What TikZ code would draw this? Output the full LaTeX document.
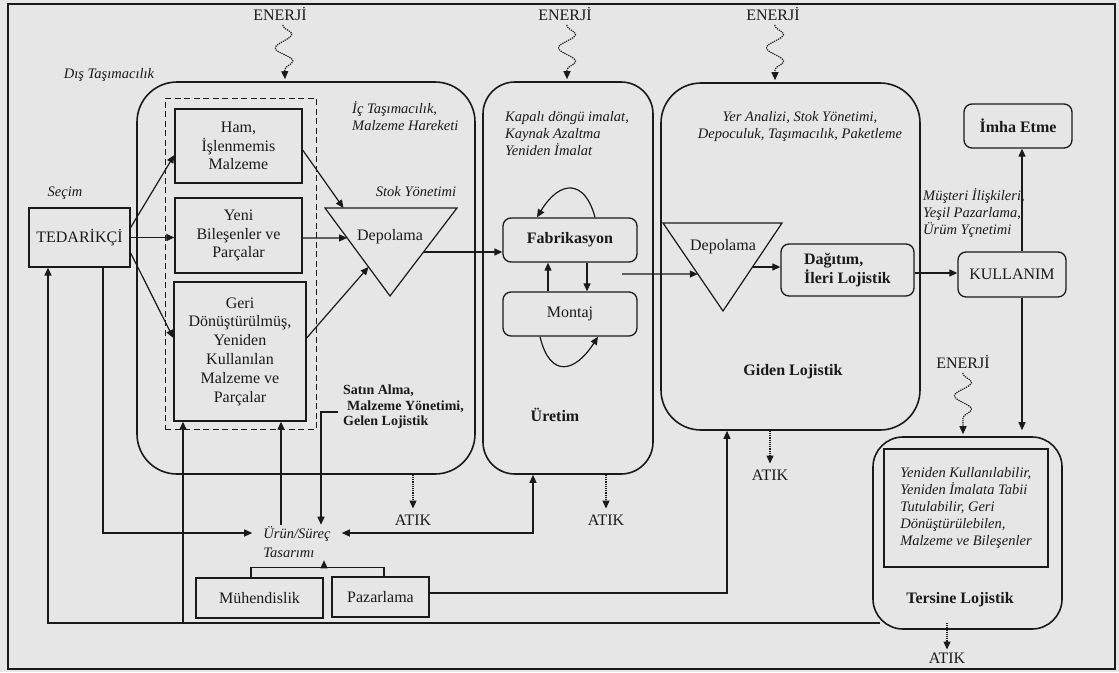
\documentclass[tikz,border=0pt]{standalone}
\usepackage{fontspec}
\setmainfont{Liberation Serif}
\usetikzlibrary{arrows.meta,decorations.pathmorphing,calc}

\definecolor{paper}{HTML}{E6E6E6}
\definecolor{ink}{HTML}{1A1A1A}

\begin{document}
\begin{tikzpicture}[x=1pt,y=-1pt,
  every node/.style={inner sep=0pt, text=ink},
  line/.style={draw=ink, line width=1.2pt},
  tip/.style={-{Triangle[length=8pt,width=7pt]}},
  arr/.style={line, tip},
  darr/.style={line, {Triangle[length=8pt,width=7pt]}-{Triangle[length=8pt,width=7pt]}},
  waste/.style={draw=ink, line width=1.2pt, densely dotted, tip},
  energy/.style={draw=ink, line width=1.2pt, densely dotted, tip, decorate,
    decoration={snake, amplitude=8.5pt, segment length=27pt, pre length=1pt, post length=7pt}},
  box/.style={draw=ink, line width=1.3pt},
  rbox/.style={draw=ink, line width=1.3pt, rounded corners=8pt},
  big/.style={draw=ink, line width=1.6pt, rounded corners=#1},
  rtxt/.style={font=\fontsize{16}{18.8}\selectfont, align=center},
  btxt/.style={font=\fontsize{16}{18.5}\selectfont\bfseries, align=center},
  itxt/.style={font=\fontsize{14.5}{17}\selectfont\itshape, align=left},
  stxt/.style={font=\fontsize{14}{15.5}\selectfont\bfseries, align=left},
]
\useasboundingbox (0,0) rectangle (1119,672);
\fill[paper] (0,0) rectangle (1119,672);
\draw[ink, line width=2pt] (8,4) rectangle (1115,669);

% ---- supply and purchasing ----
\node[big=40pt, minimum width=338pt, minimum height=392pt] (satin) at (306,278) {};
\node[draw=ink, line width=0.9pt, dash pattern=on 6pt off 3.5pt,
      minimum width=151pt, minimum height=331pt] (dash) at (240.5,263.5) {};
\node[box, rtxt, minimum width=101pt, minimum height=59pt] (ted) at (79.5,237.5) {TEDARİKÇİ};
\node[itxt] (secim) at (65,193) {Seçim};
\node[itxt] (dis) at (109,75) {Dış Taşımacılık};
\node[itxt, anchor=west] (ic) at (352,116) {İç Taşımacılık,\\Malzeme Hareketi};
\node[itxt] (stok) at (416,192) {Stok Yönetimi};
\node[box, rtxt, minimum width=127pt, minimum height=74pt] (ham) at (238.5,146) {Ham,\\İşlenmemis\\Malzeme};
\node[box, rtxt, minimum width=127pt, minimum height=75pt] (yeni) at (238.5,235.5) {Yeni\\Bileşenler ve\\Parçalar};
\node[box, rtxt, minimum width=132pt, minimum height=139pt] (geri) at (240,351.5)
  {Geri\\Dönüştürülmüş,\\Yeniden\\Kullanılan\\Malzeme ve\\Parçalar};
\draw[line] (325,208) coordinate (d1a) -- (457,208) coordinate (d1b) -- (390,296) coordinate (d1c) -- cycle;
\node[rtxt] (dep1) at (390,237) {Depolama};
\node[stxt, anchor=west] (satinlbl) at (343,407) {Satın Alma,\\\hspace{4pt}Malzeme Yönetimi,\\Gelen Lojistik};

% ---- production ----
\node[big=32pt, minimum width=170pt, minimum height=392pt] (uretim) at (568,278) {};
\node[itxt, anchor=west] (kapali) at (505,134) {Kapalı döngü imalat,\\Kaynak Azaltma\\Yeniden İmalat};
\node[rbox, btxt, minimum width=134pt, minimum height=44pt] (fab) at (570,240) {Fabrikasyon};
\node[rbox, rtxt, minimum width=134pt, minimum height=44pt] (montaj) at (570,314) {Montaj};
\node[btxt] (uretimlbl) at (555,415) {Üretim};

% ---- outbound logistics ----
\node[big=40pt, minimum width=259pt, minimum height=347pt] (giden) at (790.5,256.5) {};
\node[itxt, align=center] (yer) at (800,127) {Yer Analizi, Stok Yönetimi,\\Depoculuk, Taşımacılık, Paketleme};
\draw[line] (663,223) coordinate (d2a) -- (782,223) coordinate (d2b) -- (723,311) coordinate (d2c) -- cycle;
\node[rtxt] (dep2) at (723,247) {Depolama};
\node[rbox, btxt, align=left, minimum width=133pt, minimum height=52pt] (dagitim) at (847.5,270) {Dağıtım,\\İleri Lojistik};
\node[btxt] (gidenlbl) at (793,372) {Giden Lojistik};

% ---- use and disposal ----
\node[rbox, rtxt, minimum width=108pt, minimum height=45pt] (kullanim) at (1012,274.5) {KULLANIM};
\node[rbox, btxt, minimum width=108pt, minimum height=44pt] (imha) at (1018,126) {İmha Etme};
\node[itxt, anchor=west] (musteri) at (923,213) {Müşteri İlişkileri,\\Yeşil Pazarlama,\\Ürüm Yçnetimi};

% ---- reverse logistics ----
\node[big=30pt, minimum width=189pt, minimum height=192pt] (tersine) at (967.5,533) {};
\node[box, itxt, font=\fontsize{14.5}{17.2}\selectfont\itshape, minimum width=164pt, minimum height=118pt] (tinner) at (966,508)
  {Yeniden Kullanılabilir,\\Yeniden İmalata Tabii\\Tutulabilir, Geri\\Dönüştürülebilen,\\Malzeme ve Bileşenler};
\node[btxt] (tersinelbl) at (960,600) {Tersine Lojistik};

% ---- design ----
\node[itxt, font=\fontsize{14.5}{19}\selectfont\itshape, inner xsep=11pt, inner ysep=2pt] (urun) at (297,542.5) {Ürün/Süreç\\Tasarımı};
\node[box, rtxt, minimum width=127pt, minimum height=40pt] (muh) at (259.5,598) {Mühendislik};
\node[box, rtxt, minimum width=97pt, minimum height=40pt] (paz) at (380.5,597) {Pazarlama};

% ---- energy inputs and waste outputs ----
\node[rtxt] (en1) at (280,14) {ENERJİ};
\node[rtxt] (en2) at (565,14) {ENERJİ};
\node[rtxt] (en3) at (773,14) {ENERJİ};
\node[rtxt] (en4) at (963,362) {ENERJİ};
\node[rtxt] (atik1) at (413,520) {ATIK};
\node[rtxt] (atik2) at (606,520) {ATIK};
\node[rtxt] (atik3) at (770,475) {ATIK};
\node[rtxt] (atik4) at (947,658) {ATIK};

\draw[energy] ([xshift=3pt,yshift=-4pt]en1.south) -- ([xshift=5pt,yshift=2pt]en1.south |- satin.north);
\draw[energy] ([xshift=2pt,yshift=-4pt]en2.south) -- ([xshift=2pt,yshift=2pt]en2.south |- uretim.north);
\draw[energy] ([xshift=2pt,yshift=-4pt]en3.south) -- ([xshift=2pt,yshift=2pt]en3.south |- giden.north);
\draw[energy] ([yshift=-4pt]en4.south) -- ([yshift=2pt]en4.south |- tersine.north);

\draw[waste] (atik1.north |- satin.south) -- ([yshift=6pt]atik1.north);
\draw[waste] (atik2.north |- uretim.south) -- ([yshift=6pt]atik2.north);
\draw[waste] (atik3.north |- giden.south) -- ([yshift=6pt]atik3.north);
\draw[waste] ([yshift=7pt]atik4.north |- tersine.south) -- ([yshift=3pt]atik4.north);

% ---- material flow ----
\draw[arr] ([yshift=10pt]ted.east) -- ([yshift=-9pt]ham.west);
\draw[arr] (ted.east) -- (ted.east -| yeni.west);
\draw[arr] ([yshift=-15.5pt]ted.east) -- ([yshift=13.5pt]geri.west);
\draw[arr] ([yshift=-4pt]ham.east) -- ($(d1a)!0.14!(d1b)$);
\draw[arr] ([yshift=-2.5pt]yeni.east) -- ($(d1a)!0.34!(d1c)$);
\draw[arr] ([yshift=13.5pt]geri.east) -- ($(d1a)!0.67!(d1c)$);
\draw[arr] ($(d1b)!0.5!(d1c)$) coordinate (d1out) -- (d1out -| fab.west);

\draw[arr] ([xshift=-22pt]montaj.north) -- ([xshift=-22pt]fab.south);
\draw[arr] ([xshift=17pt]fab.south) -- ([xshift=17pt]montaj.north);
\draw[arr] ([xshift=25pt]fab.north) .. controls +(-10,-38) and +(23,-38) .. ([xshift=-33pt]fab.north);
\draw[arr] ([xshift=-30pt]montaj.south) .. controls +(10,42) and +(-23,36) .. ([xshift=28pt]montaj.south);

\coordinate (uout) at (622,274);
\draw[arr] (uout) -- ($(d2a)!0.58!(d2c)$);
\draw[arr] ($(d2b)!0.5!(d2c)$) coordinate (d2out) -- (d2out -| dagitim.west);
\draw[arr] ([yshift=-3pt]dagitim.east) -- ([yshift=-3pt]dagitim.east -| kullanim.west);
\draw[arr] ([xshift=10pt]kullanim.north) -- ([xshift=10pt]kullanim.north |- imha.south);
\draw[arr] ([xshift=10pt]kullanim.south) -- ([xshift=10pt,yshift=6pt]kullanim.south |- tersine.north);

% ---- return and design links ----
\coordinate (ret) at ([xshift=8pt,yshift=-90pt]tersine.west);
\draw[arr] (ret) -| ([xshift=-31.5pt]ted.south);
\draw[arr] ([xshift=-57pt]ret -| geri.south) -- ([xshift=-57pt]geri.south);

\draw[arr] ([xshift=23.5pt]ted.south) |- ([yshift=9.5pt]urun.west);
\draw[darr] ([yshift=9.5pt]urun.east) -| ([xshift=-35pt]uretim.south);
\draw[arr] ([xshift=-16pt]urun.north) -- ([xshift=-16pt]urun.north |- geri.south);
\draw[arr] ([xshift=-5pt,yshift=-5pt]satinlbl.west) -| ([xshift=24pt]urun.north);

\draw[line] ([xshift=-8.5pt]muh.north) -- ++(0,-10) -| ([xshift=3.5pt]paz.north);
\draw[arr] ([xshift=27pt,yshift=10pt]urun.south |- muh.north) -- ([xshift=27pt]urun.south);
\draw[arr] ([yshift=4pt]paz.east) -| ([xshift=-63.5pt]giden.south);
\end{tikzpicture}
\end{document}
